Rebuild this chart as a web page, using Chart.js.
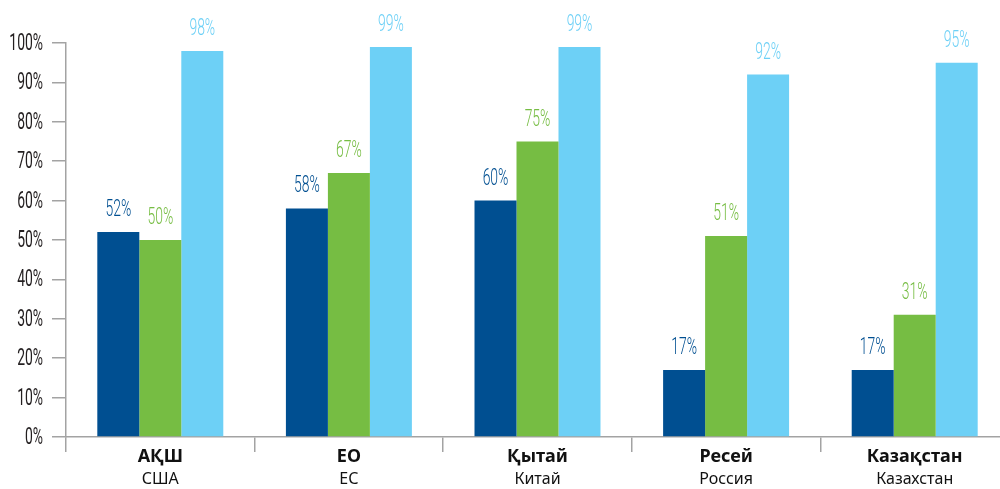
<!DOCTYPE html>
<html>
<head>
<meta charset="utf-8">
<script src="https://cdn.jsdelivr.net/npm/chart.js@4.4.1/dist/chart.umd.min.js"></script>
<style>
  html, body { margin: 0; padding: 0; background: #fff; overflow: hidden; }
  #wrap { position: relative; width: 1009px; height: 489px; }
</style>
</head>
<body>
<div id="wrap"><canvas id="chart"></canvas></div>
<script>
// ---- data ----
const namesKz = ['АҚШ', 'ЕО', 'Қытай', 'Ресей', 'Казақстан'];
const namesRu = ['США', 'ЕС', 'Китай', 'Россия', 'Казахстан'];
const seriesA = [52, 58, 60, 17, 17];
const seriesB = [50, 67, 75, 51, 31];
const seriesC = [98, 99, 99, 92, 95];
const yTicks = [0, 10, 20, 30, 40, 50, 60, 70, 80, 90, 100];

const colors = ['#004f91', '#76bd43', '#6dd0f6'];
const axisColor = '#a3a3a3';
const SQUEEZE = 0.58;

// condensed look: squeeze normal text horizontally
function narrowText(ctx, text, x, y, align, color, weight) {
  ctx.save();
  ctx.font = weight + ' 24px Roboto, "DejaVu Sans", sans-serif';
  ctx.fillStyle = color;
  ctx.textAlign = align;
  ctx.textBaseline = 'alphabetic';
  ctx.translate(x, y);
  ctx.scale(SQUEEZE, 1);
  ctx.fillText(text, 0, 0);
  ctx.restore();
}

const labelsPlugin = {
  id: 'labels',
  afterDraw(chart) {
    const ctx = chart.ctx;
    const xs = chart.scales.x, ys = chart.scales.y;
    // y tick labels
    yTicks.forEach(v => {
      narrowText(ctx, v + '%', ys.right - 23, ys.getPixelForValue(v) + 7, 'right', '#231f20', 400);
    });
    // values above bars
    chart.data.datasets.forEach((ds, i) => {
      chart.getDatasetMeta(i).data.forEach((bar, j) => {
        narrowText(ctx, ds.data[j] + '%', bar.x, bar.y - 16, 'center', colors[i], 300);
      });
    });
    // two-line category labels
    ctx.save();
    ctx.fillStyle = '#111';
    ctx.textAlign = 'center';
    ctx.textBaseline = 'alphabetic';
    namesKz.forEach((n, i) => {
      const x = xs.getPixelForValue(i);
      ctx.font = 'bold 18px "Noto Sans", "Open Sans", sans-serif';
      ctx.fillText(n, x, xs.top + 25);
      ctx.font = '16px "Noto Sans", "Open Sans", sans-serif';
      ctx.fillText(namesRu[i], x, xs.top + 47);
    });
    ctx.restore();
  }
};

new Chart(document.getElementById('chart'), {
  type: 'bar',
  data: {
    labels: namesRu,
    datasets: [
      { data: seriesA, backgroundColor: colors[0] },
      { data: seriesB, backgroundColor: colors[1] },
      { data: seriesC, backgroundColor: colors[2] },
    ]
  },
  options: {
    responsive: true,
    maintainAspectRatio: false,
    animation: false,
    layout: { padding: { top: 43, right: 0, left: 0, bottom: 0 } },
    datasets: { bar: { barPercentage: 1, categoryPercentage: 0.668 } },
    plugins: { legend: { display: false }, tooltip: { enabled: false } },
    scales: {
      x: {
        grid: { offset: true, drawOnChartArea: false, drawTicks: true, tickLength: 15, color: axisColor, lineWidth: 1.5 },
        border: { display: true, color: axisColor, width: 1.5 },
        ticks: { display: false },
        afterFit: (s) => { s.height = 52; },
      },
      y: {
        min: 0, max: 100,
        grid: { drawOnChartArea: false, drawTicks: true, tickLength: 14, color: axisColor, lineWidth: 1.5 },
        border: { display: true, color: axisColor, width: 1.5 },
        ticks: { display: false, stepSize: 10 },
        afterFit: (s) => { s.width = 66; },
      }
    }
  },
  plugins: [labelsPlugin]
});
</script>
</body>
</html>
